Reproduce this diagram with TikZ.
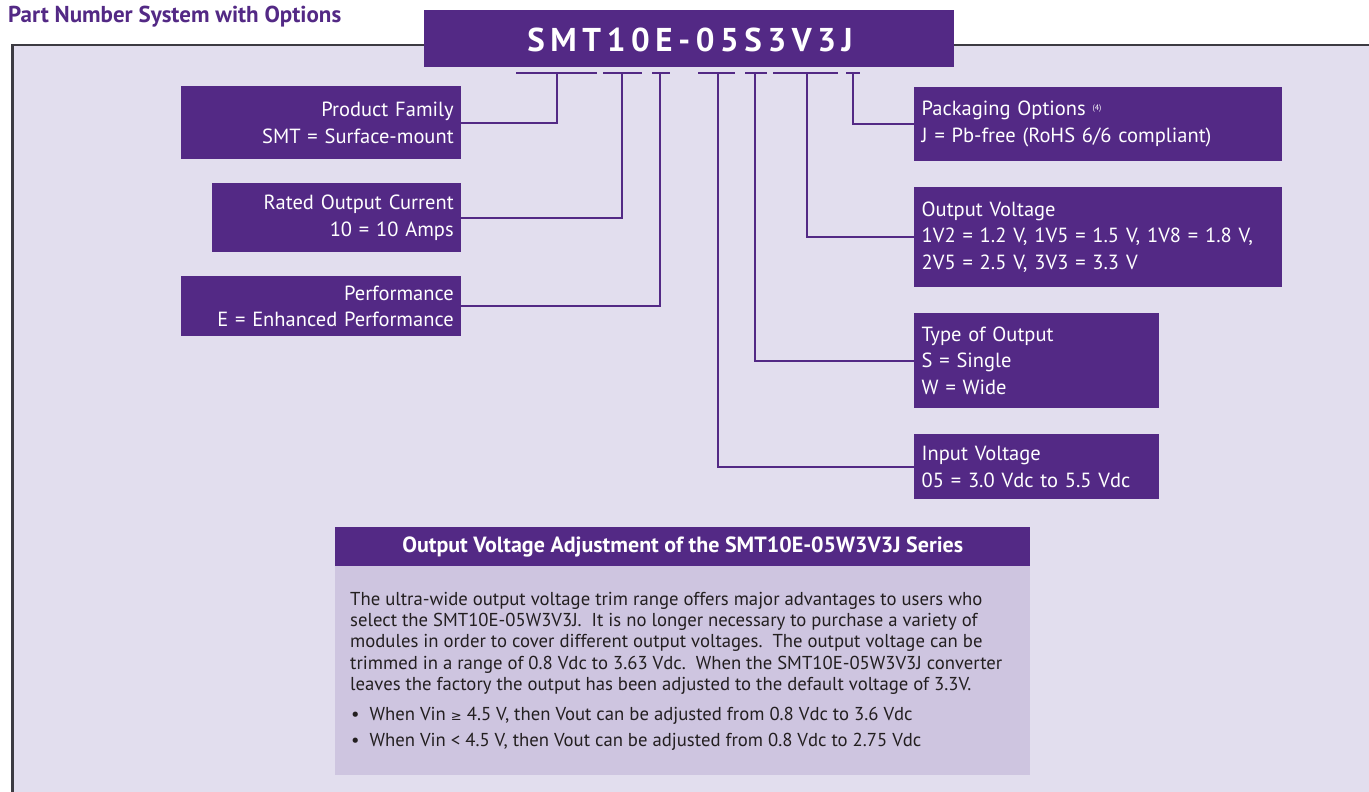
\documentclass[tikz,border=0pt]{standalone}
\usepackage{fontspec}
\setmainfont{PT Sans}
\newfontfamily\symf{DejaVu Sans}
\definecolor{pnpurple}{HTML}{532985}
\definecolor{framefill}{HTML}{E2DEEE}
\definecolor{framedraw}{HTML}{3C3B42}
\definecolor{bodyfill}{HTML}{CEC5E0}
\definecolor{bodytext}{HTML}{231F20}
\tikzset{
  pbox/.style={fill=pnpurple, text=white, inner xsep=7.5pt, inner ysep=0pt,
    font=\fontsize{20.5}{26.5}\selectfont, anchor=north west},
  lbox/.style={pbox, align=right},
  rbox/.style={pbox, align=left},
  conn/.style={draw=pnpurple, line width=2.4pt},
  tick/.style={draw=pnpurple, line width=2.4pt},
  btext/.style={inner sep=0pt, text=bodytext, font=\fontsize{18.7}{21.2}\selectfont},
}
\begin{document}
\begin{tikzpicture}[x=1pt,y=-1pt]
\useasboundingbox (0,0) rectangle (1369,792);
\fill[white] (0,0) rectangle (1369,792);
% frame
\draw[fill=framefill, draw=framedraw, line width=2.6pt] (12.5,45) rectangle (1390,820);
% title
\node[anchor=base west, inner sep=0pt, text=pnpurple,
  font=\bfseries\fontsize{23}{26}\selectfont] (title) at (8,23) {Part Number System with Options};
% part number
\fill[pnpurple] (424,10) rectangle (954,67);
\node[anchor=base, inner sep=0pt, text=white,
  font=\bfseries\fontsize{33}{33}\selectfont\addfontfeatures{LetterSpace=17}] (pn) at (690,52) {SMT10E-05S3V3J};
% ticks
\foreach \a/\b/\n in {516/597/1, 603/642/2, 652/670/3, 698/735/4, 745/767/5, 773/838/6, 846/860/7}{
  \coordinate (ta\n) at (\a,73);
  \coordinate (tb\n) at (\b,73);
  \draw[tick] (ta\n) -- (tb\n);
}
\coordinate (t1) at (557,73);
\coordinate (t2) at (622,73);
\coordinate (t3) at (660,73);
\coordinate (t4) at (718,73);
\coordinate (t5) at (755,73);
\coordinate (t6) at (807,73);
\coordinate (t7) at (853,73);
% left boxes
\node[lbox, minimum width=280pt, minimum height=73pt, text width=265pt] (pf) at (181,86)
  {Product Family\\SMT = Surface-mount};
\node[lbox, minimum width=249pt, minimum height=69pt, text width=234pt] (roc) at (212,183)
  {Rated Output Current\\10 = 10 Amps};
\node[lbox, minimum width=280pt, minimum height=60pt, text width=265pt] (perf) at (181,276)
  {Performance\\E = Enhanced Performance};
% right boxes
\node[rbox, minimum width=368pt, minimum height=74pt, text width=353pt] (pack) at (914,87)
  {Packaging Options {\fontsize{8}{8}\selectfont\raisebox{5pt}{(4)}}\\J = Pb-free (RoHS 6/6 compliant)};
\node[rbox, minimum width=368pt, minimum height=100pt, text width=353pt] (ov) at (914,187)
  {Output Voltage\\1V2 = 1.2 V, 1V5 = 1.5 V, 1V8 = 1.8 V,\\2V5 = 2.5 V, 3V3 = 3.3 V};
\node[rbox, minimum width=245pt, minimum height=95pt, text width=230pt] (too) at (914,313)
  {Type of Output\\S = Single\\W = Wide};
\node[rbox, minimum width=245pt, minimum height=65pt, text width=230pt] (iv) at (914,434)
  {Input Voltage\\05 = 3.0 Vdc to 5.5 Vdc};
% connectors
\draw[conn] (pf.east) -| (t1);
\draw[conn] (roc.east) -| (t2);
\draw[conn] (perf.east) -| (t3);
\draw[conn] (iv.west) -| (t4);
\draw[conn] (too.west) -| (t5);
\draw[conn] (ov.west) -| (t6);
\draw[conn] (pack.west) -| (t7);
% bottom panel
\node[fill=bodyfill, minimum width=695pt, minimum height=209pt, anchor=north west, inner sep=0pt] (body) at (335,566) {};
\node[fill=pnpurple, text=white, minimum width=695pt, minimum height=39pt, anchor=north west, inner sep=0pt,
  font=\bfseries\fontsize{22}{24}\selectfont] (head) at (335,527)
  {Output Voltage Adjustment of the SMT10E-05W3V3J Series};
\node[btext, anchor=north west, align=left] (para) at (350,592)
  {The ultra-wide output voltage trim range offers major advantages to users who\\
   select the SMT10E-05W3V3J.\ \ It is no longer necessary to purchase a variety of\\
   modules in order to cover different output voltages.\ \ The output voltage can be\\
   trimmed in a range of 0.8 Vdc to 3.63 Vdc.\ \ When the SMT10E-05W3V3J converter\\
   leaves the factory the output has been adjusted to the default voltage of 3.3V.};
\node[btext, anchor=base west] (b1) at (351,720)
  {\textbullet\ \ When Vin {\symf\fontsize{13}{13}\selectfont ≥} 4.5 V, then Vout can be adjusted from 0.8 Vdc to 3.6 Vdc};
\node[btext, anchor=base west] (b2) at (351,746)
  {\textbullet\ \ When Vin < 4.5 V, then Vout can be adjusted from 0.8 Vdc to 2.75 Vdc};
\end{tikzpicture}
\end{document}
